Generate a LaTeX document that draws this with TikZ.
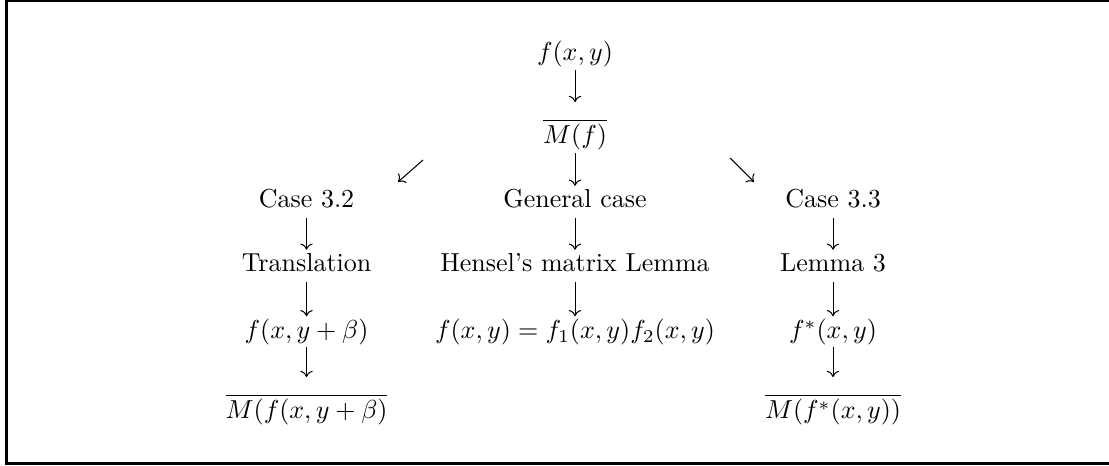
\documentclass[tikz,border=0pt]{standalone}
\usepackage{amsmath}
\usetikzlibrary{arrows.meta}

\begin{document}
\begin{tikzpicture}[
    >={To[length=2.4pt, width=4.8pt]},
    % styles for the chart
    term/.style={inner sep=0pt, anchor=base},
    down/.style={->, line width=0.4pt, shorten <=0.135cm, shorten >=0.30cm},
    downbar/.style={->, line width=0.4pt, shorten <=0.12cm, shorten >=0.56cm},
    slant/.style={->, line width=0.4pt},
    frame/.style={draw=black, line width=1pt}
]

% row baselines and column centres
\def\RowA{5.476}
\def\RowB{4.360}
\def\RowC{3.488}
\def\RowD{2.623}
\def\RowE{1.724}
\def\RowF{0.642}
\def\ColL{4.144}
\def\ColM{7.774}
\def\ColR{11.262}

% ==========================================
% 1. canvas and frame
% ==========================================
\useasboundingbox (0,0) rectangle (14.993,6.300);
\draw[frame] (0.085,0.034) rectangle (15.06,6.294);

% ==========================================
% 2. terms
% ==========================================
\node[term] (top)    at (\ColM,\RowA) {$f(x,y)$};
\node[term] (mf)     at (\ColM,\RowB) {$\overline{M(f)}$};

\node[term] (c32)    at (\ColL,\RowC) {Case 3.2};
\node[term] (gen)    at (\ColM,\RowC) {General case};
\node[term] (c33)    at (\ColR,\RowC) {Case 3.3};

\node[term] (trans)  at (\ColL,\RowD) {Translation};
\node[term] (hensel) at (\ColM,\RowD) {Hensel's matrix Lemma};
\node[term] (lem3)   at (\ColR,\RowD) {Lemma 3};

\node[term] (fshift) at (\ColL,\RowE) {$f(x,y+\beta)$};
\node[term] (fprod)  at (\ColM,\RowE) {$f(x,y)=f_1(x,y)f_2(x,y)$};
\node[term] (fstar)  at (\ColR,\RowE) {$f^*(x,y)$};

\node[term] (mshift) at (\ColL,\RowF) {$\overline{M(f(x,y+\beta)}$};
\node[term] (mstar)  at (\ColR,\RowF) {$\overline{M(f^*(x,y))}$};

% ==========================================
% 3. arrows
% ==========================================
\draw[downbar] (top.base) -- (mf.base);
\draw[down] (mf.base) -- (gen.base);

% the two slanted arrows
\coordinate (swtail) at (5.719,4.137);
\coordinate (swtip)  at (5.381,3.840);
\coordinate (setail) at (9.870,4.164);
\coordinate (setip)  at (10.194,3.840);
\draw[slant] (swtail) -- (swtip);
\draw[slant] (setail) -- (setip);

% left column
\draw[down] (c32.base) -- (trans.base);
\draw[down] (trans.base) -- (fshift.base);
\draw[downbar] (fshift.base) -- (mshift.base);

% middle column
\draw[down] (gen.base) -- (hensel.base);
\draw[down] (hensel.base) -- (fprod.base);

% right column
\draw[down] (c33.base) -- (lem3.base);
\draw[down] (lem3.base) -- (fstar.base);
\draw[downbar] (fstar.base) -- (mstar.base);

\end{tikzpicture}
\end{document}
